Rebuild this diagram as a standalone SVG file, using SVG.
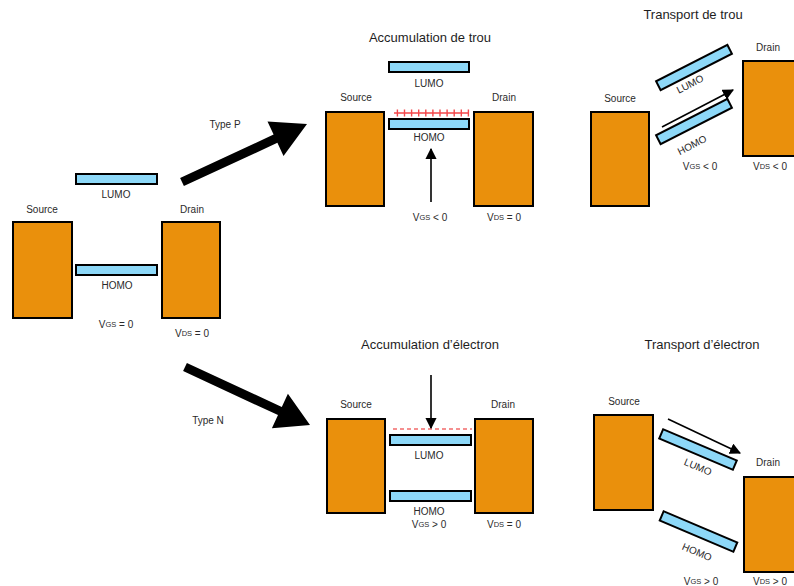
<svg xmlns="http://www.w3.org/2000/svg" width="794" height="586" viewBox="0 0 794 586">
<style>
.el{fill:#EA900C;stroke:#000;stroke-width:2}
.orb{fill:#8DD8F8;stroke:#000;stroke-width:2}
text{font-family:"Liberation Sans",Arial,sans-serif;fill:#2a2a2a;text-anchor:middle;dominant-baseline:central}
.s{font-size:10px}
.t{font-size:13px;fill:#1e1e1e}
.sub{font-size:7.5px}
.ar{stroke:#000;stroke-width:1.6;fill:none;marker-end:url(#ah)}
</style>
<defs>
<marker id="ah" viewBox="0 0 10 10" refX="9" refY="5" markerWidth="7" markerHeight="7" orient="auto" markerUnits="strokeWidth">
<path d="M0,0 L10,5 L0,10 z" fill="#000"/>
</marker>
</defs>
<rect width="794" height="586" fill="#fff"/>

<g id="initial">
<rect class="el" x="13" y="222" width="59" height="96"/>
<rect class="el" x="162" y="222" width="58" height="96"/>
<rect class="orb" x="76" y="174" width="81" height="10"/>
<rect class="orb" x="76" y="265" width="81" height="10"/>
<text class="s" x="116" y="194">LUMO</text>
<text class="s" x="42" y="209">Source</text>
<text class="s" x="192" y="209">Drain</text>
<text class="s" x="117" y="285">HOMO</text>
<text class="s" x="116" y="324">V<tspan class="sub">GS</tspan> = 0</text>
<text class="s" x="192" y="333">V<tspan class="sub">DS</tspan> = 0</text>
</g>

<g id="accum-trou">
<text class="t" x="430" y="37">Accumulation de trou</text>
<rect class="orb" x="389" y="62" width="80" height="10"/>
<text class="s" x="429" y="83">LUMO</text>
<text class="s" x="356" y="97">Source</text>
<text class="s" x="504" y="97">Drain</text>
<rect class="el" x="326" y="112" width="58" height="94"/>
<rect class="el" x="474" y="112" width="59" height="94"/>
<path d="M394,113 H469 M397.4,109.5 V116.5 M404.5,109.5 V116.5 M411.6,109.5 V116.5 M418.7,109.5 V116.5 M425.8,109.5 V116.5 M432.9,109.5 V116.5 M440,109.5 V116.5 M447.1,109.5 V116.5 M454.2,109.5 V116.5 M461.3,109.5 V116.5 M468.4,109.5 V116.5" stroke="#F4474A" stroke-width="1.4" fill="none"/>
<rect class="orb" x="389" y="119" width="80" height="10"/>
<text class="s" x="429" y="137">HOMO</text>
<text class="s" x="430" y="217">V<tspan class="sub">GS</tspan> &lt; 0</text>
<text class="s" x="504" y="217">V<tspan class="sub">DS</tspan> = 0</text>
</g>

<g id="transport-trou">
<text class="t" x="693" y="14">Transport de trou</text>
<text class="s" x="768" y="47">Drain</text>
<rect class="el" x="743" y="61" width="60" height="95"/>
<text class="s" x="620" y="98">Source</text>
<rect class="el" x="591" y="112" width="58" height="94"/>
<rect class="orb" x="-40" y="-5" width="80" height="10" transform="translate(694,67.5) rotate(-27)"/>
<rect class="orb" x="-40" y="-5" width="80" height="10" transform="translate(694,121.5) rotate(-27)"/>
<text class="s" transform="translate(690,84) rotate(-27)">LUMO</text>
<text class="s" transform="translate(692,145) rotate(-27)">HOMO</text>
<text class="s" x="700" y="166">V<tspan class="sub">GS</tspan> &lt; 0</text>
<text class="s" x="770" y="166">V<tspan class="sub">DS</tspan> &lt; 0</text>
</g>

<g id="accum-electron">
<text class="t" x="430" y="344">Accumulation d’électron</text>
<text class="s" x="356" y="404">Source</text>
<text class="s" x="503" y="404">Drain</text>
<rect class="el" x="327" y="419" width="58" height="94"/>
<rect class="el" x="475" y="419" width="58" height="94"/>
<line x1="393" y1="429" x2="472" y2="429" stroke="#F26B6B" stroke-width="1.4" stroke-dasharray="4,3"/>
<rect class="orb" x="390" y="435" width="81" height="10"/>
<text class="s" x="429" y="455">LUMO</text>
<rect class="orb" x="390" y="491" width="81" height="10"/>
<text class="s" x="429" y="511">HOMO</text>
<text class="s" x="429" y="524">V<tspan class="sub">GS</tspan> &gt; 0</text>
<text class="s" x="504" y="524">V<tspan class="sub">DS</tspan> = 0</text>
</g>

<g id="transport-electron">
<text class="t" x="702" y="344">Transport d’électron</text>
<text class="s" x="624" y="401">Source</text>
<rect class="el" x="594" y="415" width="59" height="95"/>
<text class="s" x="768" y="462">Drain</text>
<rect class="el" x="744" y="477" width="60" height="95"/>
<rect class="orb" x="-40" y="-5" width="80" height="10" transform="translate(698,449.5) rotate(23)"/>
<rect class="orb" x="-40" y="-5" width="80" height="10" transform="translate(698.5,531.5) rotate(23)"/>
<text class="s" transform="translate(698,467) rotate(23)">LUMO</text>
<text class="s" transform="translate(697,552) rotate(23)">HOMO</text>
<text class="s" x="701" y="581">V<tspan class="sub">GS</tspan> &gt; 0</text>
<text class="s" x="770" y="581">V<tspan class="sub">DS</tspan> &gt; 0</text>
</g>

<g id="connectors">
<polygon points="180.1,177.9 273.6,134.6 267.5,121.5 307,124 283.5,155.9 277.4,142.8 183.9,186.1" fill="#000"/>
<polygon points="186.9,362.9 281.8,406.9 287.9,393.8 310,425 271.9,428.2 278,415.1 183.1,371.1" fill="#000"/>
<text class="s" x="225" y="124">Type P</text>
<text class="s" x="208" y="420">Type N</text>
<line class="ar" x1="431" y1="202" x2="431" y2="149"/>
<line class="ar" x1="431" y1="375" x2="431" y2="428"/>
<line class="ar" x1="662" y1="127" x2="733" y2="90"/>
<line class="ar" x1="668" y1="419" x2="740" y2="453"/>
</g>
</svg>
